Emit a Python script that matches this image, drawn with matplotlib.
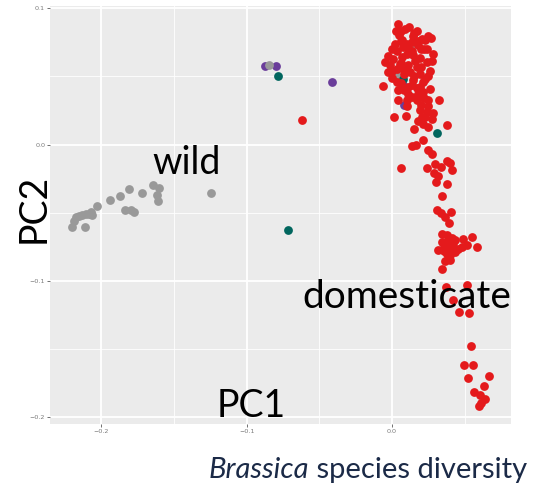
import matplotlib
matplotlib.use("Agg")
import matplotlib.pyplot as plt
import numpy as np

# PCA scores (PC1, PC2) for each accession group
domesticate_pc1 = [
    0.0039, 0.0024, 0.0065, 0.0120, 0.0172, 0.0050, 0.0141, 0.0204, 0.0249, 0.0268,
    0.0227, 0.0135, 0.0199, 0.0222, 0.0076, 0.0110, 0.0032, 0.0282, -0.0025, -0.0048,
    0.0009, 0.0067, 0.0103, 0.0144, 0.0192, 0.0238, 0.0275, -0.0014, 0.0055, 0.0112,
    0.0170, 0.0261, -0.0025, 0.0032, 0.0124, 0.0192, 0.0227, 0.0146, -0.0060, 0.0032,
    0.0043, 0.0112, 0.0170, 0.0215, 0.0215, -0.0002, 0.0082, 0.0179, 0.0069, 0.0021,
    0.0112, 0.0181, 0.0043, 0.0101, 0.0170, 0.0249, 0.0323, 0.0101, 0.0192, 0.0238,
    0.0284, 0.0014, 0.0096, 0.0204, 0.0273, 0.0215, 0.0249, 0.0153, 0.0378, 0.0215,
    0.0135, 0.0165, 0.0249, 0.0273, 0.0060, 0.0238, 0.0296, 0.0337, 0.0375, 0.0397,
    0.0414, 0.0290, 0.0318, 0.0302, 0.0378, 0.0346, 0.0306, 0.0337, 0.0402, 0.0361,
    0.0393, 0.0342, 0.0376, 0.0409, 0.0433, 0.0490, 0.0548, 0.0581, 0.0318, 0.0353,
    0.0387, 0.0421, 0.0479, 0.0376, 0.0399, 0.0433, 0.0364, 0.0399, 0.0342, 0.0376,
    0.0342, 0.0456, 0.0513, 0.0399, 0.0371, 0.0513, 0.0421, 0.0460, 0.0526, 0.0543,
    0.0497, 0.0555, 0.0524, 0.0670, 0.0634, 0.0565, 0.0605, 0.0639, 0.0610, 0.0599,
    -0.0616,
    0.0090, 0.0150, 0.0060, 0.0180, 0.0100, 0.0000, 0.0140, 0.0240, 0.0060, 0.0160,
    0.0200, 0.0080, 0.0000, 0.0150, 0.0250, 0.0060, 0.0140, 0.0190, 0.0260, 0.0080,
    0.0140, 0.0220, 0.0200, 0.0250, 0.0230, 0.0180, 0.0400, 0.0360, 0.0420,
]
domesticate_pc2 = [
    0.0882, 0.0834, 0.0834, 0.0864, 0.0834, 0.0806, 0.0794, 0.0776, 0.0798, 0.0779,
    0.0765, 0.0750, 0.0704, 0.0704, 0.0717, 0.0710, 0.0684, 0.0666, 0.0647, 0.0607,
    0.0630, 0.0642, 0.0662, 0.0655, 0.0633, 0.0603, 0.0611, 0.0581, 0.0594, 0.0581,
    0.0569, 0.0537, 0.0532, 0.0557, 0.0532, 0.0521, 0.0484, 0.0471, 0.0433, 0.0459,
    0.0398, 0.0422, 0.0413, 0.0457, 0.0386, 0.0488, 0.0515, 0.0728, 0.0765, 0.0735,
    0.0374, 0.0369, 0.0325, 0.0325, 0.0325, 0.0325, 0.0330, 0.0281, 0.0251, 0.0239,
    0.0233, 0.0202, 0.0213, 0.0202, 0.0191, 0.0154, 0.0127, 0.0117, 0.0145, 0.0037,
    -0.0012, -0.0001, -0.0038, -0.0066, -0.0168, -0.0174, -0.0139, -0.0166, -0.0122, -0.0135,
    -0.0188, -0.0210, -0.0232, -0.0273, -0.0285, -0.0377, -0.0482, -0.0500, -0.0493, -0.0531,
    -0.0575, -0.0656, -0.0665, -0.0683, -0.0702, -0.0689, -0.0680, -0.0748, -0.0775, -0.0762,
    -0.0738, -0.0751, -0.0751, -0.0799, -0.0787, -0.0787, -0.0852, -0.0845, -0.0909, -0.0714,
    -0.0714, -0.0762, -0.0738, -0.0812, -0.1046, -0.1026, -0.1141, -0.1227, -0.1233, -0.1475,
    -0.1613, -0.1613, -0.1711, -0.1695, -0.1772, -0.1814, -0.1836, -0.1869, -0.1894, -0.1916,
    0.0183,
    0.0850, 0.0820, 0.0760, 0.0760, 0.0740, 0.0700, 0.0690, 0.0700, 0.0600, 0.0610,
    0.0570, 0.0550, 0.0540, 0.0500, 0.0500, 0.0450, 0.0440, 0.0420, 0.0410, 0.0400,
    0.0350, 0.0340, 0.0290, 0.0280, 0.0200, 0.0170, -0.0760, -0.0780, -0.0720,
]

wild_pc1 = [
    -0.2201, -0.2190, -0.2156, -0.2133, -0.2110, -0.2087, -0.2071, -0.2060, -0.2030, -0.1938,
    -0.1874, -0.1808, -0.1833, -0.1796, -0.1773, -0.1720, -0.1641, -0.1603, -0.1613, -0.1606,
    -0.1246, -0.2172, -0.2103, -0.0843, 0.0025, 0.0133,
]
wild_pc2 = [
    -0.0604, -0.0560, -0.0523, -0.0513, -0.0604, -0.0506, -0.0494, -0.0518, -0.0450, -0.0403,
    -0.0379, -0.0328, -0.0477, -0.0477, -0.0494, -0.0352, -0.0298, -0.0318, -0.0372, -0.0416,
    -0.0357, -0.0533, -0.0511, 0.0581, 0.0508, 0.0721,
]

group_purple_pc1 = [-0.0873, -0.0797, -0.0410, 0.0078, 0.0085]
group_purple_pc2 = [0.0574, 0.0576, 0.0459, 0.0435, 0.0288]

group_teal_pc1 = [-0.0781, 0.0311, -0.0713, 0.0078]
group_teal_pc2 = [0.0501, 0.0083, -0.0623, 0.0484]

x_ticks = [-0.2, -0.1, 0.0]
y_ticks = [-0.2, -0.1, 0.0, 0.1]
x_ticklabels = ["\u22120.2", "\u22120.1", "0.0"]
y_ticklabels = ["\u22120.2", "\u22120.1", "0.0", "0.1"]

W, H = 554, 495
fig = plt.figure(figsize=(W / 100, H / 100), dpi=100)
ax = fig.add_axes([50 / W, 1 - 424 / H, 461 / W, 418 / H])

ax.set_facecolor("#EBEBEB")
for s in ax.spines.values():
    s.set_visible(False)

ax.set_xlim(-0.2352, 0.0818)
ax.set_ylim(-0.2049, 0.1017)
ax.set_xticks(x_ticks)
ax.set_xticklabels(x_ticklabels)
ax.set_yticks(y_ticks)
ax.set_yticklabels(y_ticklabels)
ax.set_xticks([-0.15, -0.05, 0.05], minor=True)
ax.set_yticks([-0.15, -0.05, 0.05], minor=True)
ax.grid(which="major", color="white", linewidth=1.3)
ax.grid(which="minor", color="white", linewidth=0.6)
ax.set_axisbelow(True)
ax.tick_params(which="major", length=2, width=0.6, color="#5a5a5a",
               labelsize=4.6, labelcolor="#7a7a7a", pad=1.5)
ax.tick_params(which="minor", length=0)

ms = 40
ax.scatter(group_purple_pc1, group_purple_pc2, s=ms, color="#6A3D9A", linewidths=0, zorder=3)
ax.scatter(wild_pc1, wild_pc2, s=ms, color="#999999", linewidths=0, zorder=3)
ax.scatter(group_teal_pc1, group_teal_pc2, s=ms, color="#01665E", linewidths=0, zorder=3)
ax.scatter(domesticate_pc1, domesticate_pc2, s=ms, color="#E41A1C", linewidths=0, zorder=3)

lab_font = "Lato"
ax.text(-0.165, -0.0218, "wild", fontsize=27, family=lab_font, color="black",
        ha="left", va="baseline", zorder=5)
ax.text(-0.062, -0.120, "domesticate", fontsize=28, family=lab_font, color="black",
        ha="left", va="baseline", zorder=5)
ax.text(-0.1205, -0.1997, "PC1", fontsize=27, family=lab_font, color="black",
        ha="left", va="baseline", zorder=5)
fig.text(34 / W, 1 - 208 / H, "PC2", fontsize=27, family=lab_font, color="black",
         rotation=90, ha="center", va="center")

# Caption with an italic genus name
title_color = "#1B2A47"
fig.canvas.draw()
r = fig.canvas.get_renderer()
t2 = fig.text(527 / W, 1 - 478 / H, " species diversity", fontsize=21, family=lab_font,
              color=title_color, ha="right", va="baseline")
bb = t2.get_window_extent(renderer=r)
fig.text(bb.x0 / W, 1 - 478 / H, "Brassica", fontsize=21, family=lab_font,
         style="italic", color=title_color, ha="right", va="baseline")

fig.savefig("out.png", dpi=100)
